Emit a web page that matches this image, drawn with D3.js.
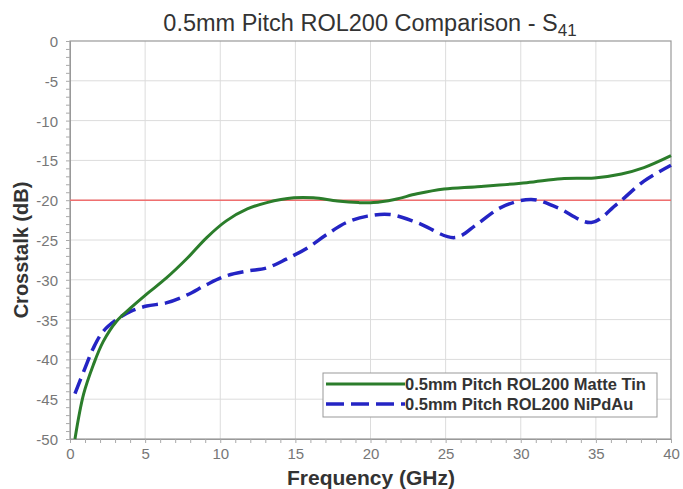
<!DOCTYPE html>
<html>
<head>
<meta charset="utf-8">
<script src="https://cdn.jsdelivr.net/npm/d3@7"></script>
<style>
  body { margin: 0; background: #fff; }
  svg { display: block; font-family: "Liberation Sans", Arial, sans-serif; }
</style>
</head>
<body>
<svg id="chart" width="683" height="489"></svg>
<script>
// series (GHz, dB)
const matteFreq = [0.33, 0.9, 1.55, 2.2, 3.1, 4.0, 5.1, 6.4, 7.8, 9.1, 10.4, 11.8, 13.1, 14.9, 16.2, 17.8, 19.2, 20.2, 21.6, 23.1, 24.9, 27.1, 30.4, 32.7, 34.9, 36.7, 38.2, 40];
const matteDb   = [-50, -44.4, -40.7, -37.8, -35.2, -33.6, -31.8, -29.8, -27.3, -24.7, -22.6, -21.1, -20.3, -19.7, -19.7, -20.1, -20.3, -20.3, -19.9, -19.2, -18.6, -18.3, -17.8, -17.3, -17.2, -16.7, -15.9, -14.4];
const nipdFreq = [0.33, 1.0, 1.55, 2.2, 3.1, 4.0, 5.1, 6.4, 7.8, 9.1, 10.4, 11.8, 13.1, 14.4, 15.8, 17.1, 18.4, 19.8, 21.3, 23.1, 25.6, 27.1, 28.7, 30.7, 32.4, 34.7, 36.4, 38.2, 40];
const nipdDb   = [-44.3, -41.1, -38.6, -36.5, -35.0, -34.0, -33.3, -32.9, -31.9, -30.6, -29.5, -28.9, -28.5, -27.4, -26.0, -24.3, -22.8, -22.0, -21.8, -22.8, -24.7, -23.0, -20.9, -19.9, -20.9, -22.8, -20.5, -17.6, -15.6];
const limitDb = -20;
const xTicks = [0, 5, 10, 15, 20, 25, 30, 35, 40];
const yTicks = [0, -5, -10, -15, -20, -25, -30, -35, -40, -45, -50];
const seriesNames = ["0.5mm Pitch ROL200 Matte Tin", "0.5mm Pitch ROL200 NiPdAu"];

const svg = d3.select("#chart");
const plotL = 70, plotR = 671, plotT = 41, plotB = 439;

const x = d3.scaleLinear().domain([0, 40]).range([plotL, plotR]);
const y = d3.scaleLinear().domain([-50, 0]).range([plotB, plotT]);

// grid
svg.append("g").selectAll("line").data(xTicks.slice(1, -1)).join("line")
  .attr("x1", d => x(d)).attr("x2", d => x(d)).attr("y1", plotT).attr("y2", plotB)
  .attr("stroke", "#dcdcdc").attr("stroke-width", 1);
svg.append("g").selectAll("line").data(yTicks.slice(1, -1)).join("line")
  .attr("x1", plotL).attr("x2", plotR).attr("y1", d => y(d)).attr("y2", d => y(d))
  .attr("stroke", "#dcdcdc").attr("stroke-width", 1);

// frame
svg.append("rect").attr("x", plotL).attr("y", plotT).attr("width", plotR - plotL).attr("height", plotB - plotT)
  .attr("fill", "none").attr("stroke", "#999").attr("stroke-width", 1.2);

// axes with minor ticks
const xAxis = svg.append("g").attr("transform", `translate(0,${plotB})`)
  .call(d3.axisBottom(x).tickValues(d3.range(0, 41, 1)).tickSize(4).tickFormat(d => d % 5 === 0 ? d : ""));
const yAxis = svg.append("g").attr("transform", `translate(${plotL},0)`)
  .call(d3.axisLeft(y).tickValues(d3.range(-50, 1, 1)).tickSize(4).tickFormat(d => d % 5 === 0 ? d : ""));
[xAxis, yAxis].forEach(a => {
  a.select(".domain").attr("stroke", "#999");
  a.selectAll(".tick line").attr("stroke", "#aaa");
  a.selectAll(".tick text").attr("fill", "#777").attr("font-size", 15)
    .attr("font-family", "Liberation Sans, Arial, sans-serif");
});
xAxis.selectAll(".tick text").attr("y", 20).attr("dy", 0);
yAxis.selectAll(".tick text").attr("x", -12).attr("dy", "0.36em");

// limit line
svg.append("line").attr("x1", plotL).attr("x2", plotR).attr("y1", y(limitDb)).attr("y2", y(limitDb))
  .attr("stroke", "#ef6f6f").attr("stroke-width", 1.6);

const line = d3.line().x(d => x(d[0])).y(d => y(d[1])).curve(d3.curveCatmullRom.alpha(0.5));

svg.append("path").datum(d3.zip(nipdFreq, nipdDb)).attr("d", line)
  .attr("fill", "none").attr("stroke", "#2424c4").attr("stroke-width", 3.5)
  .attr("stroke-dasharray", "16,7");
svg.append("path").datum(d3.zip(matteFreq, matteDb)).attr("d", line)
  .attr("fill", "none").attr("stroke", "#2b7d2b").attr("stroke-width", 3);

// legend
const lg = svg.append("g");
lg.append("rect").attr("x", 323).attr("y", 373).attr("width", 334).attr("height", 44)
  .attr("fill", "#fff").attr("stroke", "#999").attr("stroke-width", 1);
const legendStyles = [
  { color: "#2b7d2b", width: 3, dash: null },
  { color: "#2424c4", width: 3.5, dash: "18,7" }
];
seriesNames.forEach((name, i) => {
  const yy = 384 + i * 20;
  lg.append("line").attr("x1", 326).attr("x2", 405).attr("y1", yy).attr("y2", yy)
    .attr("stroke", legendStyles[i].color).attr("stroke-width", legendStyles[i].width)
    .attr("stroke-dasharray", legendStyles[i].dash);
  lg.append("text").attr("x", 405).attr("y", yy + 6).attr("font-size", 16.5).attr("font-weight", "bold")
    .attr("fill", "#333").text(name);
});

// title and axis labels
const title = svg.append("text").attr("x", 370).attr("y", 31).attr("text-anchor", "middle")
  .attr("font-size", 23.5).attr("fill", "#333");
title.append("tspan").text("0.5mm Pitch ROL200 Comparison - S");
title.append("tspan").attr("font-size", 17).attr("dy", 5).text("41");

svg.append("text").attr("x", 371).attr("y", 485).attr("text-anchor", "middle")
  .attr("font-size", 21).attr("font-weight", "bold").attr("fill", "#333").text("Frequency (GHz)");
svg.append("text").attr("transform", "translate(28,250) rotate(-90)").attr("text-anchor", "middle")
  .attr("font-size", 20).attr("font-weight", "bold").attr("fill", "#333").text("Crosstalk (dB)");
</script>
</body>
</html>
